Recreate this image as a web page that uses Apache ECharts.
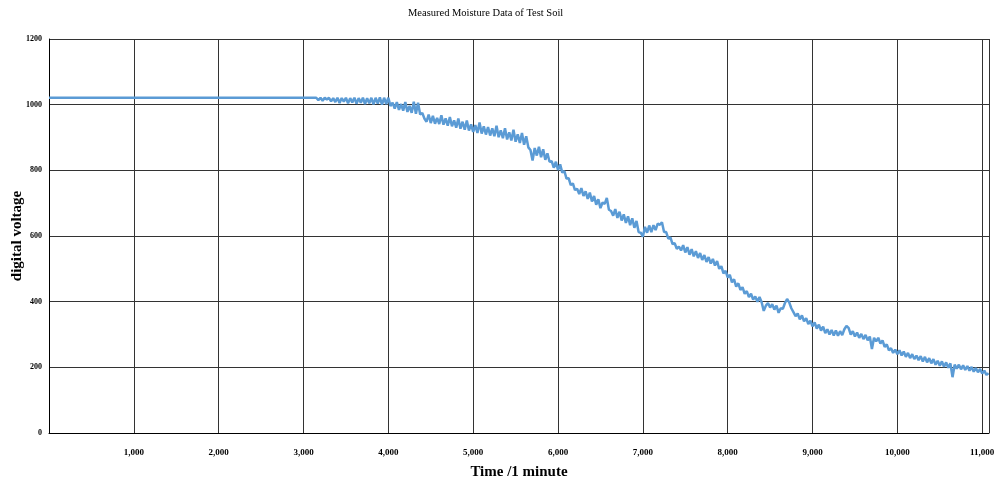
<!DOCTYPE html>
<html>
<head>
<meta charset="UTF-8">
<title>Measured Moisture Data of Test Soil</title>
<style type="text/css">
	* { margin: 0; padding: 0; }
	#chart { width: 994px; height: 481px; background: #fff; }
</style>
</head>
<body>
<div id="chart"></div>
<script src="https://cdn.jsdelivr.net/npm/echarts@6/dist/echarts.min.js"></script>
<script type="text/javascript">
	// flat part before the readings start to move
	var flatTimes = [0, 3150];
	var flatValues = [1021, 1021];

	// noisy part: one reading every 25 minutes from 3150 on
	var noisyStart = 3150;
	var noisyStep = 25;
	var moisture = [
		// 3150 - 4125
		1021, 1014, 1021, 1012, 1021, 1016, 1021, 1010, 1020, 1008,
		1021, 1005, 1020, 1009, 1021, 1004, 1020, 1007, 1021, 1003,
		1020, 1006, 1021, 1002, 1020, 1004, 1021, 1001, 1021, 1003,
		1022, 1000, 1021, 1002, 1021, 996, 1006, 988, 1008, 984,
		// 4150 - 5125
		1002, 982, 1008, 978, 996, 975, 1009, 972, 1006, 970,
		975, 958, 948, 970, 944, 966, 942, 960, 941, 968,
		939, 958, 936, 962, 934, 952, 930, 958, 927, 948,
		924, 952, 921, 940, 917, 938, 914, 946, 912, 934,
		// 5150 - 6125
		909, 932, 906, 928, 904, 936, 901, 922, 898, 928,
		894, 916, 891, 924, 887, 910, 883, 914, 878, 904,
		870, 862, 830, 868, 845, 872, 840, 864, 832, 852,
		826, 828, 808, 826, 801, 818, 793, 798, 775, 776,
		// 6150 - 7125
		755, 760, 740, 744, 728, 746, 722, 736, 713, 732,
		705, 722, 695, 712, 685, 702, 698, 716, 680, 676,
		662, 682, 655, 674, 647, 666, 640, 660, 633, 654,
		625, 646, 612, 610, 598, 628, 610, 632, 612, 633,
		// 7150 - 8125
		618, 638, 634, 642, 612, 612, 592, 596, 575, 578,
		561, 568, 556, 572, 550, 566, 543, 560, 538, 554,
		533, 548, 527, 542, 521, 536, 516, 530, 510, 524,
		500, 508, 486, 494, 474, 482, 459, 468, 446, 456,
		// 8150 - 9125
		436, 444, 424, 432, 414, 424, 406, 416, 400, 414,
		398, 372, 388, 396, 382, 392, 376, 388, 366, 380,
		378, 396, 408, 398, 380, 368, 356, 364, 346, 358,
		340, 350, 332, 342, 325, 337, 318, 330, 312, 324,
		// 9150 - 10125
		304, 316, 300, 314, 297, 312, 296, 310, 298, 316,
		326, 320, 300, 310, 294, 306, 290, 302, 286, 299,
		282, 294, 256, 290, 279, 290, 272, 282, 262, 270,
		252, 258, 244, 254, 240, 252, 236, 248, 232, 244,
		// 10150 - 11075
		228, 240, 225, 236, 222, 234, 218, 232, 215, 228,
		212, 225, 208, 220, 205, 218, 202, 215, 199, 212,
		170, 208, 196, 208, 194, 206, 192, 204, 190, 201,
		187, 198, 185, 195, 181, 190, 177, 182
	];

	var xMax = 11080;
	var yTicks = [0, 200, 400, 600, 800, 1000, 1200];

	var points = [];
	for (var i = 0; i < flatTimes.length; i++) {
		points.push([flatTimes[i], flatValues[i]]);
	}
	for (var j = 0; j < moisture.length; j++) {
		points.push([noisyStart + j * noisyStep, moisture[j]]);
	}

	var serif = 'Liberation Serif';
	var myChart = echarts.init(document.getElementById('chart'));
	var option = {
		animation: false,
		title: {
			text: 'Measured Moisture Data of Test Soil',
			left: 403,
			top: 3,
			textStyle: { fontFamily: serif, fontSize: 10.5, fontWeight: 'normal', color: '#000' }
		},
		grid: { left: 49, right: 5, top: 39, bottom: 48, outerBoundsMode: 'none' },
		xAxis: {
			type: 'value',
			min: 0,
			max: xMax,
			interval: 1000,
			name: 'Time /1 minute',
			nameLocation: 'middle',
			nameGap: 32,
			nameMoveOverlap: false,
			nameTextStyle: { fontFamily: serif, fontSize: 15, fontWeight: 'bold', color: '#000' },
			axisLine: { lineStyle: { color: '#000', width: 1 } },
			axisTick: { show: false },
			axisLabel: {
				fontFamily: serif, fontSize: 9, fontWeight: 'bold', color: '#000', margin: 15,
				showMinLabel: false, showMaxLabel: false,
				formatter: function(v) { return v % 1000 === 0 ? v.toLocaleString('en-US') : ''; }
			},
			splitLine: { show: true, lineStyle: { color: '#333', width: 1 } }
		},
		yAxis: {
			type: 'value',
			min: yTicks[0],
			max: yTicks[yTicks.length - 1],
			interval: 200,
			name: 'digital voltage',
			nameLocation: 'middle',
			nameGap: 24,
			nameMoveOverlap: false,
			nameTextStyle: { fontFamily: serif, fontSize: 15, fontWeight: 'bold', color: '#000' },
			axisLine: { show: true, lineStyle: { color: '#000', width: 1 } },
			axisTick: { show: false },
			axisLabel: {
				fontFamily: serif, fontSize: 8, fontWeight: 'bold', color: '#000', margin: 7,
				formatter: function(v) { return String(v); }
			},
			splitLine: { show: true, lineStyle: { color: '#333', width: 1 } }
		},
		series: [{
			type: 'line',
			data: points,
			showSymbol: false,
			lineStyle: { color: '#5b9bd5', width: 2.5 },
			itemStyle: { color: '#5b9bd5' }
		}]
	};
	myChart.setOption(option);
</script>
</body>
</html>
